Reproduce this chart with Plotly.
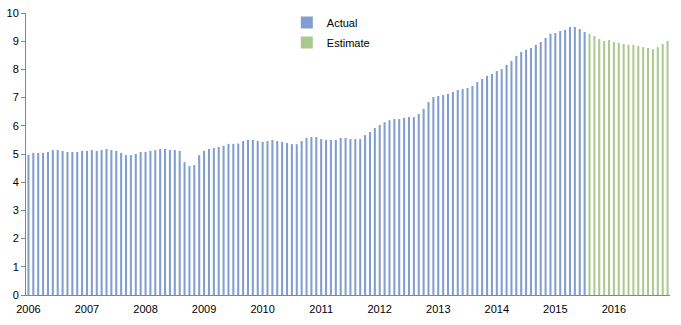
import plotly.graph_objects as go

# Monthly categories Jan 2006 .. Dec 2016
years = list(range(2006, 2017))
months = [f"{y}-{m:02d}" for y in years for m in range(1, 13)]

actual_values = [
    4.97, 5.04, 5.04, 5.04, 5.07, 5.14, 5.14, 5.11, 5.07, 5.07, 5.07, 5.11,   # 2006
    5.11, 5.14, 5.11, 5.14, 5.18, 5.14, 5.11, 5.04, 4.96, 4.96, 5.00, 5.07,   # 2007
    5.07, 5.11, 5.14, 5.18, 5.18, 5.14, 5.14, 5.11, 4.71, 4.57, 4.61, 4.96,   # 2008
    5.11, 5.18, 5.21, 5.25, 5.29, 5.36, 5.36, 5.37, 5.46, 5.50, 5.50, 5.46,   # 2009
    5.43, 5.46, 5.50, 5.46, 5.43, 5.39, 5.35, 5.35, 5.46, 5.57, 5.60, 5.60,   # 2010
    5.53, 5.50, 5.50, 5.50, 5.57, 5.57, 5.53, 5.53, 5.53, 5.67, 5.78, 5.92,   # 2011
    6.03, 6.13, 6.20, 6.24, 6.24, 6.28, 6.31, 6.31, 6.42, 6.60, 6.84, 7.02,   # 2012
    7.06, 7.09, 7.13, 7.20, 7.27, 7.30, 7.34, 7.41, 7.55, 7.66, 7.77, 7.84,   # 2013
    7.94, 8.01, 8.16, 8.30, 8.48, 8.62, 8.69, 8.76, 8.87, 8.97, 9.11, 9.26,   # 2014
    9.29, 9.36, 9.40, 9.50, 9.50, 9.43, 9.33,                                 # 2015 Jan-Jul
]
estimate_values = [
    9.26, 9.18, 9.08, 9.01, 9.04,                                             # 2015 Aug-Dec
    8.97, 8.94, 8.90, 8.87, 8.87, 8.83, 8.79, 8.76, 8.72, 8.79, 8.90, 9.01,   # 2016
]

actual_months = months[:len(actual_values)]
estimate_months = months[len(actual_values):]

tick_vals = [f"{y}-01" for y in years]
tick_text = [str(y) for y in years]
y_ticks = list(range(0, 11))

FONT = "Liberation Sans, Arial, sans-serif"

fig = go.Figure()
fig.add_trace(go.Bar(x=actual_months, y=actual_values, name="Actual", legendgroup="a",
                     marker=dict(color="#809ECF", line=dict(width=0)), width=0.42))
fig.add_trace(go.Bar(x=estimate_months, y=estimate_values, name="Estimate", legendgroup="b",
                     marker=dict(color="#ABC98E", line=dict(width=0)), width=0.42))

fig.update_layout(
    width=681, height=325,
    margin=dict(l=26, r=11, t=13, b=30, autoexpand=False),
    paper_bgcolor="white", plot_bgcolor="white",
    barmode="overlay",
    font=dict(family=FONT, size=11, color="#000000"),
    showlegend=True,
    legend=dict(x=0.405, y=1.018, xanchor="left", yanchor="top",
                bgcolor="rgba(0,0,0,0)", font=dict(size=11, family=FONT),
                itemwidth=30, tracegroupgap=1, traceorder="grouped"),
)
fig.update_xaxes(
    type="category", categoryorder="array", categoryarray=months,
    range=[-0.5, len(months) - 0.5],
    tickmode="array", tickvals=tick_vals, ticktext=tick_text,
    showline=True, linecolor="#868686", linewidth=1,
    ticks="outside", ticklen=4, tickcolor="rgba(0,0,0,0)",
    showgrid=False, zeroline=False,
    tickfont=dict(size=11, family=FONT, color="#000000"),
    tickangle=0,
)
fig.update_yaxes(
    range=[0, 10], tickmode="array", tickvals=y_ticks,
    showline=True, linecolor="#868686", linewidth=1,
    ticks="outside", ticklen=4, tickcolor="#868686",
    showgrid=False, zeroline=False,
    tickfont=dict(size=11, family=FONT, color="#000000"),
)

fig.write_html("out.html")
